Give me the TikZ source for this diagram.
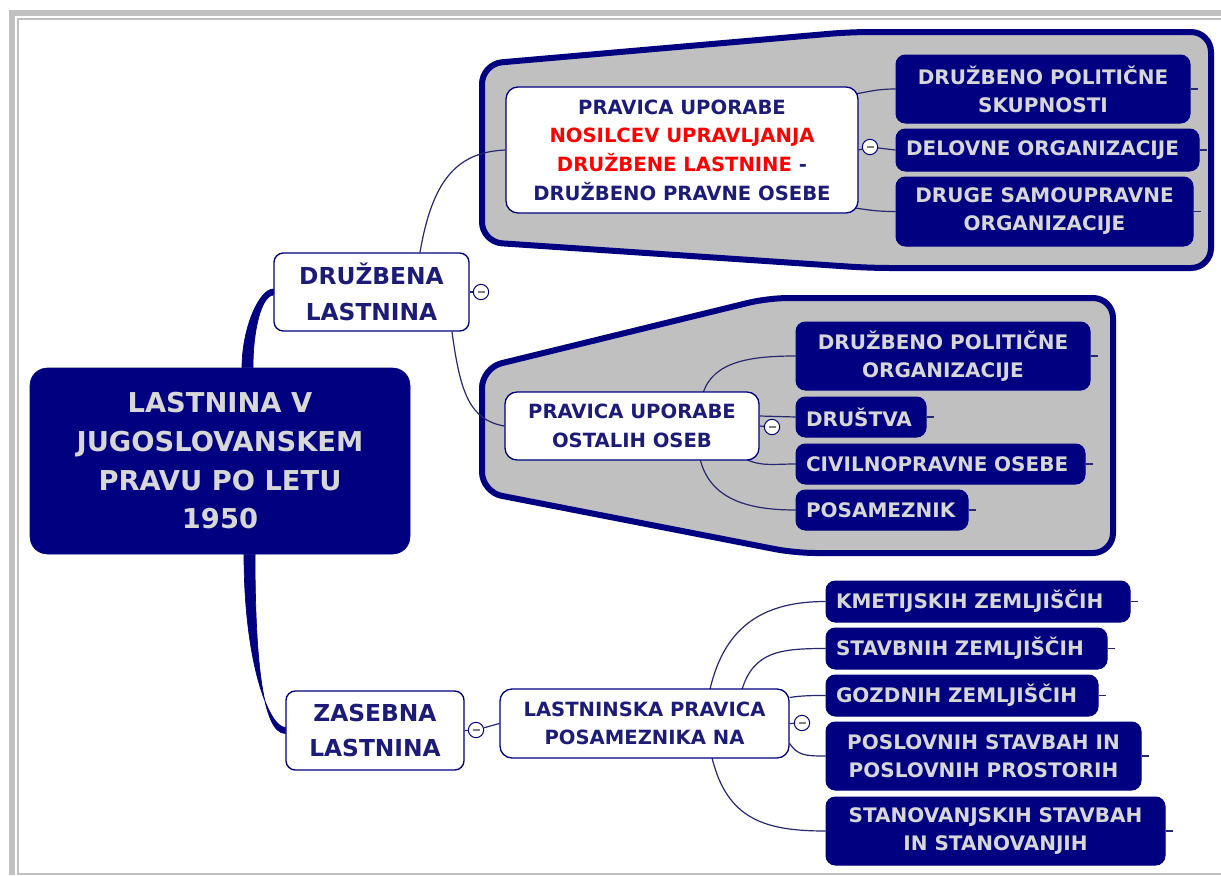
\documentclass[tikz,border=0pt]{standalone}
\usepackage{fontspec}
\setmainfont{DejaVu Sans}
\usetikzlibrary{calc}
\definecolor{navy}{RGB}{0,0,128}
\definecolor{navytxt}{RGB}{28,28,120}
\definecolor{leaftxt}{RGB}{215,215,215}
\definecolor{callgray}{RGB}{192,192,192}
\definecolor{framegray}{RGB}{192,192,192}
\definecolor{connc}{RGB}{40,40,110}
\pgfdeclarelayer{back}
\pgfdeclarelayer{conns}
\pgfsetlayers{back,conns,main}
\begin{document}
\begin{tikzpicture}[x=0.75pt,y=-0.75pt,
  sz/.style 2 args={minimum width=#1*0.75pt, minimum height=#2*0.75pt},
  leaf/.style={draw=navy, fill=navy, line width=0.75pt, rounded corners=7pt, inner sep=0pt,
    text=leaftxt, align=center, font=\bfseries\fontsize{15}{21}\selectfont},
  sleaf/.style={leaf, align=left, text width=#1},
  wnode/.style={draw=navy, line width=1pt, fill=white, rounded corners=9pt, inner sep=0pt,
    text=navytxt, align=center, font=\bfseries\fontsize{14.7}{21.5}\selectfont},
  branch/.style={wnode, rounded corners=7pt, font=\bfseries\fontsize{17.5}{26.5}\selectfont},
  root/.style={draw=navy, fill=navy, rounded corners=13pt, inner sep=0pt,
    text=leaftxt, align=center, font=\bfseries\fontsize{20.5}{29}\selectfont},
  minusc/.style={circle, draw=navy, fill=white, line width=0.75pt, minimum size=11.5pt, inner sep=0pt},
  conn/.style={draw=connc, line width=0.9pt},
  callout/.style={draw=navy, line width=4.5pt, fill=callgray, rounded corners=15pt, line join=round},
  trunk/.style={fill=navy, draw=navy, line width=0.5pt},
  minusbar/.style={draw=gray, line width=1.1pt}
]
\useasboundingbox (0,0) rectangle (1221,875);
% background, frame, callouts
\begin{pgfonlayer}{back}
\fill[white] (0,0) rectangle (1221,875);
\fill[framegray] (9,10) rectangle (15,875);
\fill[framegray] (9,10) rectangle (1221,16);
\fill[framegray] (17,18) rectangle (18.7,873);
\fill[framegray] (17,18) rectangle (1221,19.7);
\fill[framegray] (17,872.5) rectangle (1221,875);
\path[callout] (482,64) -- (850,32) -- (1211,32) -- (1211,268) -- (870,268) -- (482,242) -- cycle;
\path[callout] (482,368) -- (768,298) -- (1113,298) -- (1113,553) -- (795,553) -- (482,492) -- cycle;
\end{pgfonlayer}

% nodes
\node[root, sz={380}{186}] (main) at (220,461) {LASTNINA V\\JUGOSLOVANSKEM\\PRAVU PO LETU\\1950};
\node[branch, sz={195}{78}] (druz) at (371.5,292) {DRUŽBENA\\LASTNINA};
\node[branch, sz={178}{79}] (zas) at (375,730.5) {ZASEBNA\\LASTNINA};

\node[wnode, sz={352}{126}] (wn1) at (682,150) {PRAVICA UPORABE\\{\color{red}NOSILCEV UPRAVLJANJA}\\{\color{red}DRUŽBENE LASTNINE} -\\DRUŽBENO PRAVNE OSEBE};
\node[leaf, sz={294}{68}] (l1) at (1043,89) {DRUŽBENO POLITIČNE\\SKUPNOSTI};
\node[sleaf=212.25pt, sz={303}{42}] (l2) at (1047.5,150) {DELOVNE ORGANIZACIJE};
\node[leaf, sz={297}{69}] (l3) at (1044.5,211.5) {DRUGE SAMOUPRAVNE\\ORGANIZACIJE};

\node[wnode, sz={254}{68}] (wn2) at (632,426) {PRAVICA UPORABE\\OSTALIH OSEB};
\node[leaf, sz={294}{68}] (la) at (943,356) {DRUŽBENO POLITIČNE\\ORGANIZACIJE};
\node[sleaf=82.5pt, sz={130}{40}] (lb) at (861,417) {DRUŠTVA};
\node[sleaf=201.75pt, sz={289}{40}] (lc) at (940.5,464) {CIVILNOPRAVNE OSEBE};
\node[sleaf=114pt, sz={172}{40}] (ld) at (882,510) {POSAMEZNIK};

\node[wnode, sz={289}{69}] (las) at (644.5,723.5) {LASTNINSKA PRAVICA\\POSAMEZNIKA NA};
\node[sleaf=213pt, sz={304}{41}] (k1) at (978,601.5) {KMETIJSKIH ZEMLJIŠČIH};
\node[sleaf=195.75pt, sz={281}{41}] (k2) at (966.5,648.5) {STAVBNIH ZEMLJIŠČIH};
\node[sleaf=189pt, sz={272}{41}] (k3) at (962,695.5) {GOZDNIH ZEMLJIŠČIH};
\node[leaf, sz={315}{68}] (k4) at (983.5,756) {POSLOVNIH STAVBAH IN\\POSLOVNIH PROSTORIH};
\node[leaf, sz={339}{68}] (k5) at (995.5,831) {STANOVANJSKIH STAVBAH\\IN STANOVANJIH};

% collapse circles
\node[minusc] (c1) at (481,292) {};
\node[minusc] (c2) at (870,147) {};
\node[minusc] (c3) at (772,427) {};
\node[minusc] (c4) at (476,730) {};
\node[minusc] (c5) at (802,723) {};
\foreach \c in {c1,c2,c3,c4,c5}{
  \draw[minusbar] ($(\c)+(-3.5,0)$) -- ($(\c)+(3.5,0)$);
}

% connectors
\begin{pgfonlayer}{conns}
% thick trunks from the root
\path[trunk] ($(main.north)+(22,0)$) .. controls +(0,-40) and +(-14,0) .. ($(druz.west)+(0,-3)$)
  -- ($(druz.west)+(0,3)$) .. controls +(-12,1) and +(0,-38) .. ($(main.north)+(33,0)$) -- cycle;
\path[trunk] ($(main.south)+(24,0)$) .. controls +(0,110) and +(-16,0) .. ($(zas.west)+(0,-3)$)
  -- ($(zas.west)+(0,3)$) .. controls +(-22,0) and +(0,110) .. ($(main.south)+(35,0)$) -- cycle;

% druzbena branch
\draw[conn] (druz.east) -- (c1);
\draw[conn] ($(druz.north)+(48.5,0)$) .. controls +(12,-70) and +(-50,2) .. (wn1.west);
\draw[conn] ($(druz.south)+(80.5,0)$) .. controls +(8,60) and +(-35,-6) .. (wn2.west);

% callout 1
\draw[conn] ($(wn1.east)+(-10,-55)$) .. controls +(20,-3) and +(-20,0) .. (l1.west);
\draw[conn] (wn1.east) -- (c2) -- (l2.west);
\draw[conn] ($(wn1.east)+(-10,57)$) .. controls +(20,3) and +(-20,0) .. (l3.west);

% callout 2
\draw[conn] ($(wn2.north)+(71,2)$) .. controls +(10,-32) and +(-45,0) .. (la.west);
\draw[conn] ($(wn2.east)+(0,-10)$) -- (lb.west);
\draw[conn] (wn2.east) -- (c3);
\draw[conn] ($(wn2.south)+(113,-2)$) .. controls +(15,8) and +(-22,0) .. (lc.west);
\draw[conn] ($(wn2.south)+(68,-2)$) .. controls +(10,42) and +(-45,0) .. (ld.west);

% zasebna branch
\draw[conn] (zas.east) -- (c4) -- (las.west);
\draw[conn] (las.east) -- (c5);
\draw[conn] ($(las.north)+(65.5,1)$) .. controls +(15,-65) and +(-60,0) .. (k1.west);
\draw[conn] ($(las.north)+(97.5,1)$) .. controls +(12,-38) and +(-45,0) .. (k2.west);
\draw[conn] ($(las.east)+(0,-26)$) .. controls +(12,-2) and +(-12,0) .. (k3.west);
\draw[conn] ($(las.east)+(0,20)$) .. controls +(8,12) and +(-20,0) .. (k4.west);
\draw[conn] ($(las.south)+(67.5,-1)$) .. controls +(15,62) and +(-60,0) .. (k5.west);

% right-hand stubs
\foreach \n in {l1,l2,l3,la,lb,lc,ld,k1,k2,k3,k4,k5}{
  \draw[conn] (\n.east) -- ++(7,0);
}
\end{pgfonlayer}
\end{tikzpicture}
\end{document}
